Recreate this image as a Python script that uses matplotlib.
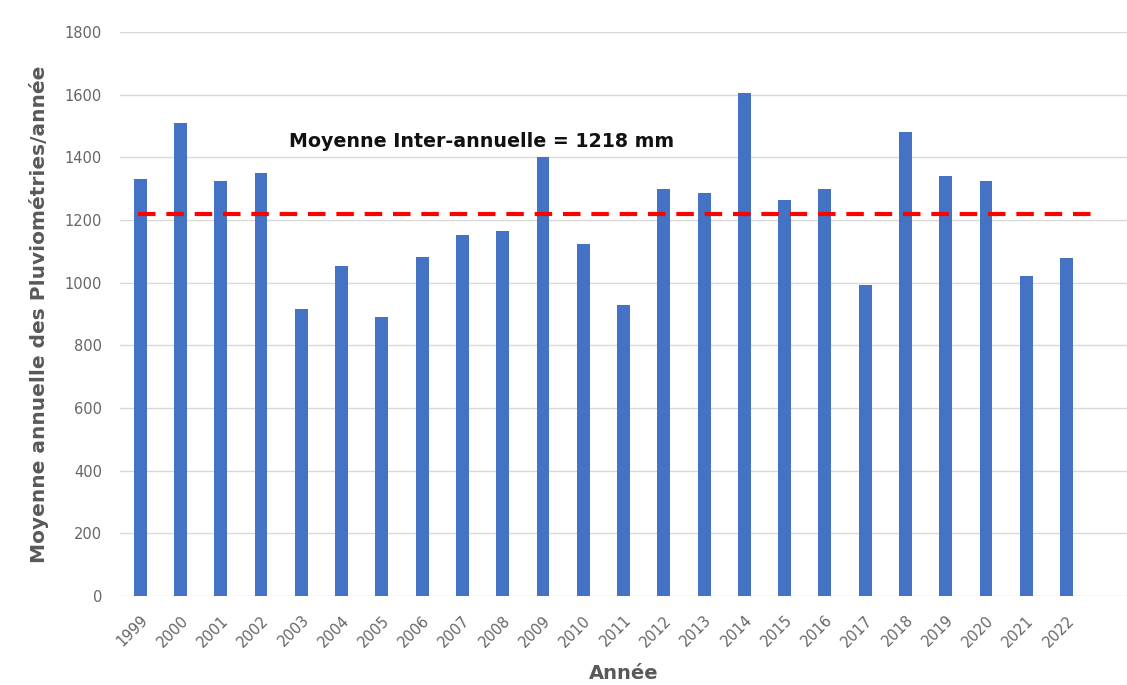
import matplotlib
matplotlib.use("Agg")
import matplotlib.pyplot as plt

annees = ["1999", "2000", "2001", "2002", "2003", "2004", "2005", "2006",
          "2007", "2008", "2009", "2010", "2011", "2012", "2013", "2014",
          "2015", "2016", "2017", "2018", "2019", "2020", "2021", "2022"]
pluie = [1330, 1510, 1325, 1350, 916, 1053, 890, 1082,
         1152, 1165, 1401, 1123, 929, 1299, 1286, 1605,
         1264, 1299, 993, 1481, 1340, 1325, 1021, 1079]
moyenne = 1218
y_ticks = [0, 200, 400, 600, 800, 1000, 1200, 1400, 1600, 1800]

plt.rcParams['font.family'] = ['DejaVu Sans']

fig = plt.figure(figsize=(11.27, 6.85), dpi=100)
ax = fig.add_axes([0.1065, 0.130, 0.8935, 0.823])

x = list(range(len(annees)))
ax.bar(x, pluie, width=0.32, color="#4472C4", zorder=3)

# mean line across the period
ax.plot([-0.06, 23.78], [moyenne, moyenne], linestyle=(0, (4.2, 2.6)),
        color="#FF0000", linewidth=3, zorder=4, solid_capstyle="butt")
ax.text(3.7, 1450, f"Moyenne Inter-annuelle = {moyenne} mm",
        fontsize=13.7, fontweight="bold", color="#111111", va="center", ha="left")

ax.set_xlim(-0.5, 24.5)
ax.set_ylim(0, 1800)
ax.set_yticks(y_ticks)
ax.set_yticklabels([str(v) for v in y_ticks], fontsize=10.5, color="#666666")
ax.set_xticks(x)
ax.set_xticklabels(annees, rotation=45, ha="right", rotation_mode="anchor",
                   fontsize=10.5, color="#666666")
ax.tick_params(axis="y", length=0, pad=13)
ax.tick_params(axis="x", length=0, pad=12)

ax.grid(axis="y", color="#D9D9D9", linewidth=1, zorder=0)
for s in ["top", "right", "left", "bottom"]:
    ax.spines[s].set_visible(False)

ax.set_ylabel("Moyenne annuelle des Pluviométries/année", fontsize=14.5,
              fontweight="bold", color="#595959", labelpad=11)
ax.set_xlabel("Année", fontsize=14, fontweight="bold", color="#595959", labelpad=10)

fig.savefig("out.png", dpi=100, facecolor="white")
